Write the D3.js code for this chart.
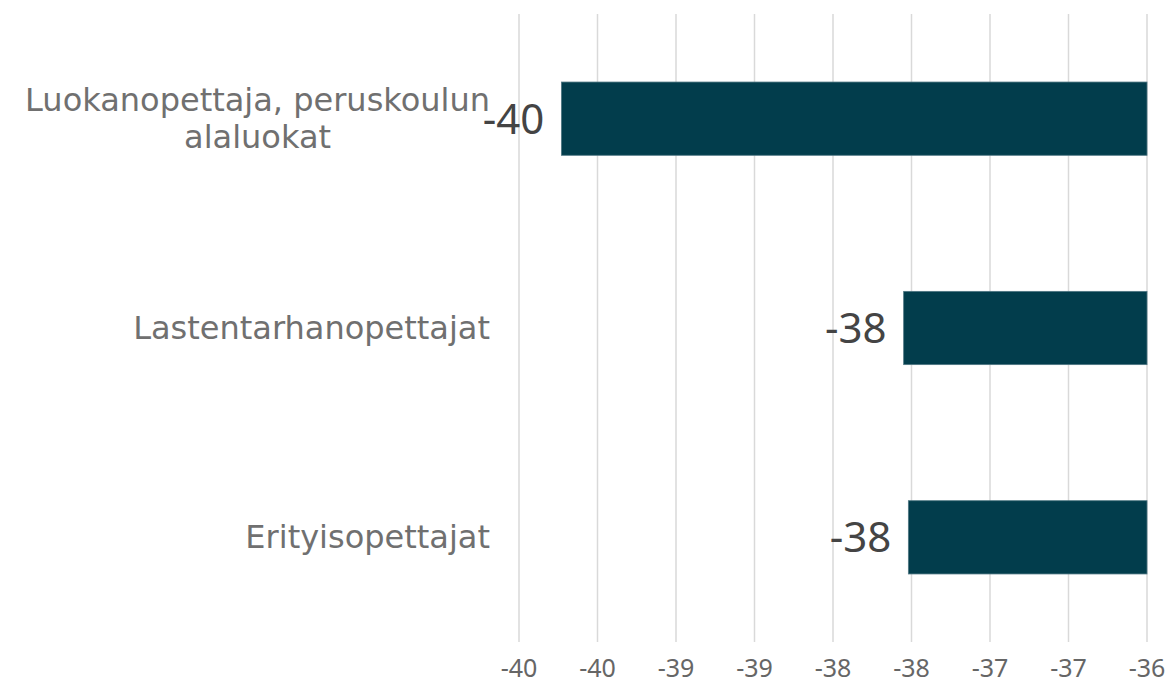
<!DOCTYPE html>
<html><head><meta charset="utf-8">
<script src="https://cdn.jsdelivr.net/npm/d3@7"></script>
<style>body{margin:0;background:#fff}svg{display:block}</style>
</head><body>
<script>
const categories = [["Luokanopettaja, peruskoulun","alaluokat"], ["Lastentarhanopettajat"], ["Erityisopettajat"]];
const values = [-39.73, -37.55, -37.52];
const tickValues = [-40, -39.5, -39, -38.5, -38, -37.5, -37, -36.5, -36];
const tickLabels = ["-40", "-40", "-39", "-39", "-38", "-38", "-37", "-37", "-36"];

const W = 1173, H = 684;
const svg = d3.select("body").append("svg").attr("width", W).attr("height", H);
const x = d3.scaleLinear().domain([-40, -36]).range([519, 1147]);
const y = d3.scaleBand().domain(d3.range(categories.length)).range([14, 642]).paddingInner(0.65).paddingOuter(0.325);

// gridlines
svg.append("g").selectAll("line").data(tickValues).join("line")
  .attr("x1", d => x(d)).attr("x2", d => x(d)).attr("y1", 14).attr("y2", 642)
  .attr("stroke", "#d9d9d9").attr("stroke-width", 1.5);

// tick labels
svg.append("g").selectAll("text").data(tickValues).join("text")
  .attr("x", d => x(d)).attr("y", 677).attr("text-anchor", "middle")
  .attr("font-family", "'Noto Sans', sans-serif").attr("font-size", 25).attr("fill", "#666")
  .text((d, i) => tickLabels[i]);

// bars
svg.append("g").selectAll("rect").data(values).join("rect")
  .attr("x", d => x(d)).attr("width", d => x(-36) - x(d))
  .attr("y", (d, i) => y(i)).attr("height", y.bandwidth())
  .attr("fill", "#023d4c").attr("stroke", "#4f7783").attr("stroke-width", 0.8);

// value labels
svg.append("g").selectAll("text").data(values).join("text")
  .attr("x", d => x(d) - 17).attr("y", (d, i) => y(i) + y.bandwidth() / 2)
  .attr("dy", "0.36em").attr("text-anchor", "end")
  .attr("font-family", "'Noto Sans', sans-serif").attr("font-size", 42).attr("fill", "#444")
  .text(d => String(Math.sign(d) * Math.round(Math.abs(d))));

// category labels
const lineH = 37;
categories.forEach((lines, i) => {
  const cy = y(i) + y.bandwidth() / 2;
  const g = svg.append("g");
  const t = g.append("text").attr("font-family", "'DejaVu Sans', Verdana, sans-serif")
    .attr("font-size", 32).attr("fill", "#707070").attr("text-anchor", "middle");
  const spans = lines.map((s, j) => t.append("tspan").text(s));
  const maxW = d3.max(spans, s => s.node().getComputedTextLength());
  const cx = 490 - maxW / 2;
  const n = lines.length;
  spans.forEach((s, j) => s.attr("x", cx).attr("y", cy + (j - (n - 1) / 2) * lineH - 1).attr("dy", "0.36em"));
});
</script>
</body></html>
